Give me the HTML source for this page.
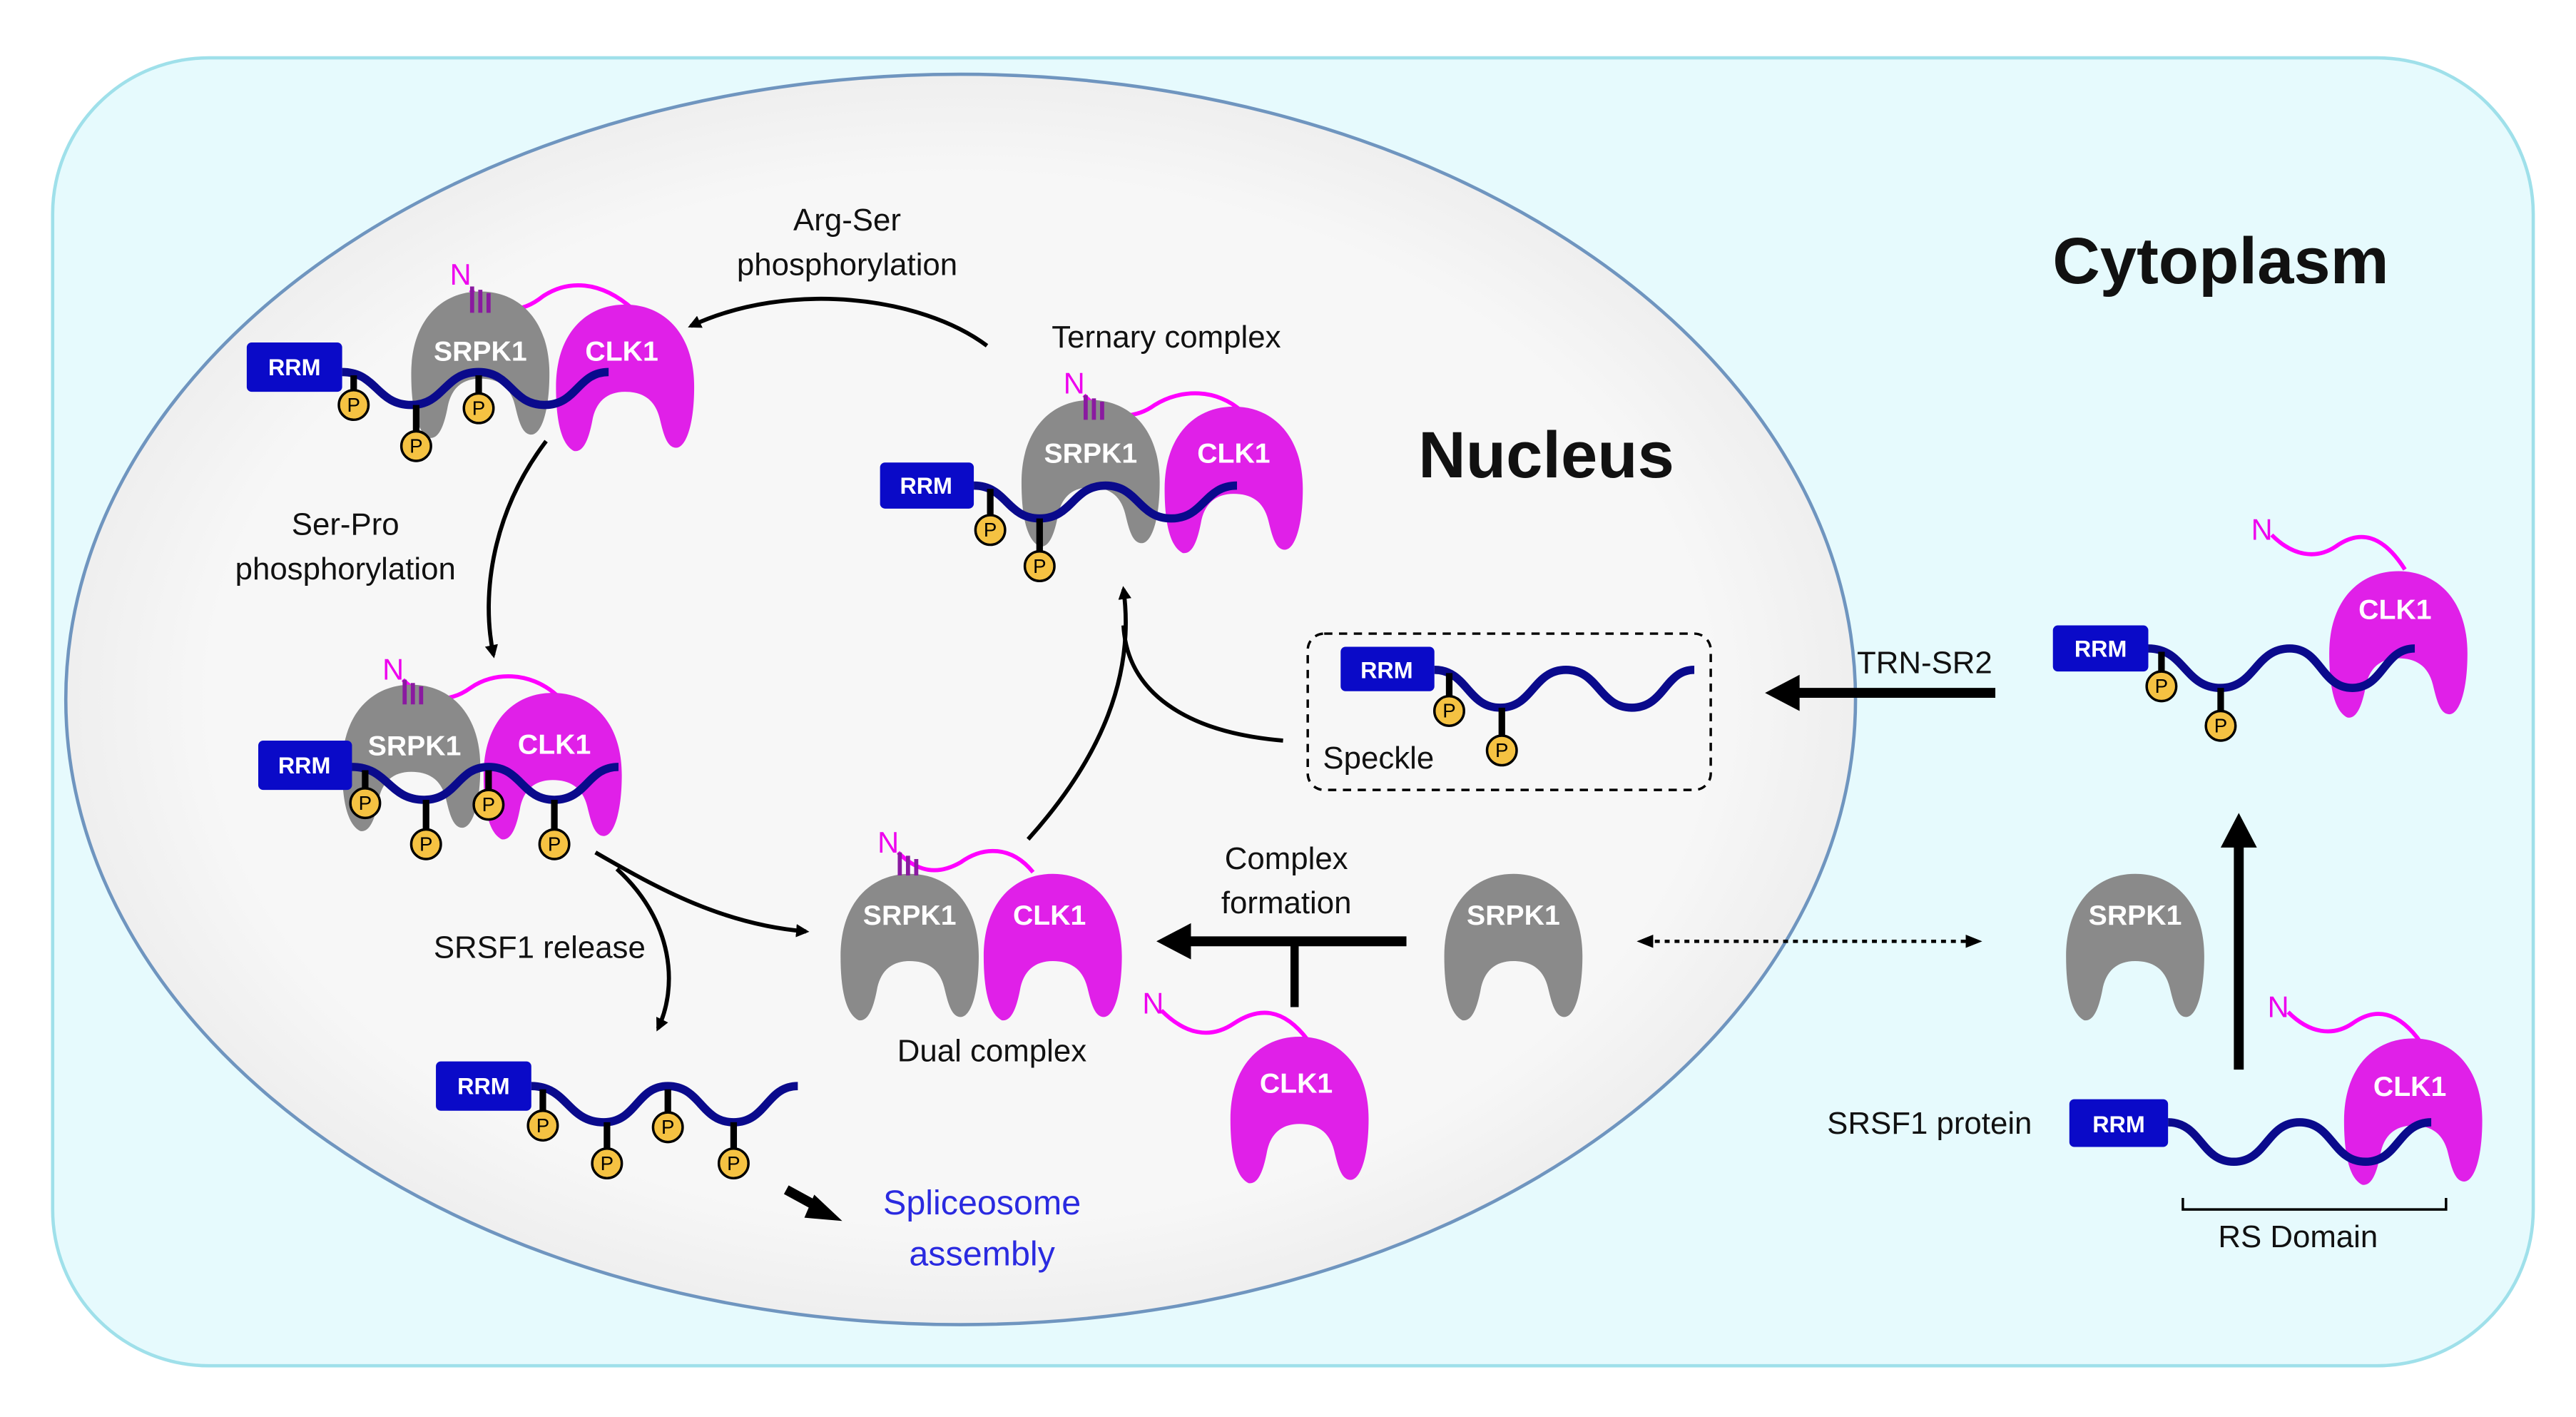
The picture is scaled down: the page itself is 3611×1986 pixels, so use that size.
<!DOCTYPE html>
<html><head><meta charset="utf-8"><style>
html,body{margin:0;padding:0;background:#fff;}
svg{display:block;}
text{font-family:"Liberation Sans",sans-serif;}
.lbl{font-size:19px;fill:#111;text-anchor:middle;}
.kt{font-size:17px;font-weight:bold;fill:#fff;text-anchor:middle;}
.rrm{font-size:14px;font-weight:bold;fill:#fff;text-anchor:middle;}
.nt{font-size:18px;fill:#ee00ee;text-anchor:middle;}
.pt{font-size:12px;fill:#000;text-anchor:middle;}
.wave{fill:none;stroke:#0a0a8c;stroke-width:5;}
.stk{stroke:#000;stroke-width:4;}
.pc{fill:#f5c242;stroke:#000;stroke-width:1.5;}
.tail{fill:none;stroke:#ff00ff;stroke-width:2.5;}
.pl{stroke:#8a1aa0;stroke-width:2.5;}
</style></head><body>
<svg width="3611" height="1986" viewBox="0 0 1566 861" xmlns="http://www.w3.org/2000/svg">
<defs>
<path id="k" d="M -42 5 C -42 -27 -24 -45 0 -45 C 24 -45 42 -27 42 5 C 42 28 37 42 31 42 C 25 42 23 32 21 24 C 18 12 10 8 0 8 C -11 8 -18 14 -20 26 C -22 36 -25 45 -31 44 C -39 40 -42 25 -42 5 Z"/>
<marker id="ah" markerWidth="8" markerHeight="8" refX="6" refY="4" orient="auto" markerUnits="userSpaceOnUse"><path d="M0 0 L8 4 L0 8 Z" fill="#000"/></marker>
<marker id="ah2" markerWidth="10" markerHeight="10" refX="5" refY="5" orient="auto-start-reverse" markerUnits="userSpaceOnUse"><path d="M0 1 L10 5 L0 9 Z" fill="#000"/></marker>
<radialGradient id="ng" cx="0.5" cy="0.5" r="0.6"><stop offset="0.7" stop-color="#f7f7f7"/><stop offset="1" stop-color="#e4e4e4"/></radialGradient>
</defs>
<rect x="0" y="0" width="1566" height="861" fill="#fff"/>
<rect x="32" y="35" width="1508" height="795" rx="95" fill="#e6fafd" stroke="#9fe0ea" stroke-width="2"/>
<ellipse cx="584" cy="425" rx="544" ry="380" fill="url(#ng)" stroke="#6f95bf" stroke-width="2"/>

<text x="1350" y="172" style="font-size:40px;font-weight:bold;fill:#111;text-anchor:middle">Cytoplasm</text>
<text x="940" y="290" style="font-size:40px;font-weight:bold;fill:#111;text-anchor:middle">Nucleus</text>

<text class="lbl" x="515" y="140">Arg-Ser</text>
<text class="lbl" x="515" y="167">phosphorylation</text>
<text class="lbl" x="709" y="211">Ternary complex</text>
<text class="lbl" x="210" y="325">Ser-Pro</text>
<text class="lbl" x="210" y="352">phosphorylation</text>
<text class="lbl" x="328" y="582">SRSF1 release</text>
<text class="lbl" x="603" y="645">Dual complex</text>
<text class="lbl" x="782" y="528">Complex</text>
<text class="lbl" x="782" y="555">formation</text>
<text class="lbl" x="1170" y="409">TRN-SR2</text>
<text class="lbl" x="838" y="467">Speckle</text>
<text class="lbl" x="1173" y="689">SRSF1 protein</text>
<text class="lbl" x="1397" y="758">RS Domain</text>
<text x="597" y="738" style="font-size:21px;fill:#2a2ae0;text-anchor:middle">Spliceosome</text>
<text x="597" y="769" style="font-size:21px;fill:#2a2ae0;text-anchor:middle">assembly</text>

<path d="M600 210 C560 180 480 170 420 198" fill="none" stroke="#000" stroke-width="2.5" marker-end="url(#ah)"/>
<path d="M332 268 C300 310 292 360 300 398" fill="none" stroke="#000" stroke-width="2.5" marker-end="url(#ah)"/>
<path d="M362 518 C400 540 440 562 490 566" fill="none" stroke="#000" stroke-width="2.5" marker-end="url(#ah)"/>
<path d="M375 528 C410 560 412 600 400 625" fill="none" stroke="#000" stroke-width="2.5" marker-end="url(#ah)"/>
<path d="M625 510 C670 460 690 410 683 358" fill="none" stroke="#000" stroke-width="2.5" marker-end="url(#ah)"/>
<path d="M780 450 C720 445 685 420 683 380" fill="none" stroke="#000" stroke-width="2.5"/>
<line x1="478" y1="723" x2="500" y2="735" stroke="#000" stroke-width="6"/>
<path d="M495 726 L512 742 L489 740 Z" fill="#000"/>
<line x1="855" y1="572" x2="720" y2="572" stroke="#000" stroke-width="6"/>
<path d="M703 572 L724 561 L724 583 Z" fill="#000"/>
<line x1="787" y1="572" x2="787" y2="612" stroke="#000" stroke-width="5"/>
<line x1="1000" y1="572" x2="1200" y2="572" stroke="#000" stroke-width="2" stroke-dasharray="3,3" marker-start="url(#ah2)" marker-end="url(#ah2)"/>
<line x1="1213" y1="421" x2="1090" y2="421" stroke="#000" stroke-width="6"/>
<path d="M1073 421 L1094 410 L1094 432 Z" fill="#000"/>
<line x1="1361" y1="650" x2="1361" y2="512" stroke="#000" stroke-width="6"/>
<path d="M1361 494 L1350 515 L1372 515 Z" fill="#000"/>
<path d="M1327 728 L1327 735 L1487 735 L1487 728" fill="none" stroke="#000" stroke-width="1.5"/>
<rect x="795" y="385" width="245" height="95" rx="10" fill="none" stroke="#000" stroke-width="1.5" stroke-dasharray="5,4"/>

<!-- TOP-LEFT complex -->
<path class="tail" d="M286 176 C300 190 315 192 330 180 C345 170 365 170 385 188"/>
<text class="nt" x="280" y="173">N</text>
<use href="#k" x="292" y="222" fill="#8a8a8a"/>
<use href="#k" x="380" y="230" fill="#e020e8"/>
<line class="pl" x1="287" y1="174" x2="287" y2="190"/><line class="pl" x1="292" y1="176" x2="292" y2="190"/><line class="pl" x1="297" y1="178" x2="297" y2="190"/>
<text class="kt" x="292" y="219">SRPK1</text><text class="kt" x="378" y="219">CLK1</text>
<rect x="150" y="208" width="58" height="30" rx="3" fill="#0a0ac8"/><text class="rrm" x="179" y="228">RRM</text>
<path class="wave" d="M208 226 C229 226 229 246 250 246 C270 246 270 226 291 226 C311 226 311 246 331 246 C351 246 351 226 370 226"/>
<line class="stk" x1="215" y1="228" x2="215" y2="238"/><circle class="pc" cx="215" cy="246" r="9"/><text class="pt" x="215" y="250">P</text>
<line class="stk" x1="253" y1="246" x2="253" y2="263"/><circle class="pc" cx="253" cy="271" r="9"/><text class="pt" x="253" y="275">P</text>
<line class="stk" x1="291" y1="228" x2="291" y2="240"/><circle class="pc" cx="291" cy="248" r="9"/><text class="pt" x="291" y="252">P</text>

<!-- TERNARY -->
<path class="tail" d="M659 240 C672 254 688 256 702 246 C718 236 740 236 755 250"/>
<text class="nt" x="653" y="239">N</text>
<use href="#k" x="663" y="288" fill="#8a8a8a"/>
<use href="#k" x="750" y="292" fill="#e020e8"/>
<line class="pl" x1="660" y1="240" x2="660" y2="255"/><line class="pl" x1="665" y1="242" x2="665" y2="255"/><line class="pl" x1="670" y1="244" x2="670" y2="255"/>
<text class="kt" x="663" y="281">SRPK1</text><text class="kt" x="750" y="281">CLK1</text>
<rect x="535" y="281" width="57" height="28" rx="3" fill="#0a0ac8"/><text class="rrm" x="563" y="300">RRM</text>
<path class="wave" d="M592 295 C612 295 612 315 632 315 C652 315 652 295 672 295 C692 295 692 315 712 315 C732 315 732 295 752 295"/>
<line class="stk" x1="602" y1="297" x2="602" y2="314"/><circle class="pc" cx="602" cy="322" r="9"/><text class="pt" x="602" y="326">P</text>
<line class="stk" x1="632" y1="315" x2="632" y2="336"/><circle class="pc" cx="632" cy="344" r="9"/><text class="pt" x="632" y="348">P</text>

<!-- MIDDLE-LEFT -->
<path class="tail" d="M245 413 C258 426 272 428 286 418 C300 408 322 408 338 422"/>
<text class="nt" x="239" y="413">N</text>
<use href="#k" x="250" y="461" fill="#8a8a8a"/>
<use href="#k" x="336" y="466" fill="#e020e8"/>
<line class="pl" x1="246" y1="413" x2="246" y2="428"/><line class="pl" x1="251" y1="415" x2="251" y2="428"/><line class="pl" x1="256" y1="417" x2="256" y2="428"/>
<text class="kt" x="252" y="459">SRPK1</text><text class="kt" x="337" y="458">CLK1</text>
<rect x="157" y="450" width="57" height="30" rx="3" fill="#0a0ac8"/><text class="rrm" x="185" y="470">RRM</text>
<path class="wave" d="M214 466 C236 466 236 486 258 486 C278 486 278 466 297 466 C317 466 317 486 337 486 C357 486 357 466 376 466"/>
<line class="stk" x1="222" y1="468" x2="222" y2="480"/><circle class="pc" cx="222" cy="488" r="9"/><text class="pt" x="222" y="492">P</text>
<line class="stk" x1="259" y1="486" x2="259" y2="505"/><circle class="pc" cx="259" cy="513" r="9"/><text class="pt" x="259" y="517">P</text>
<line class="stk" x1="297" y1="468" x2="297" y2="481"/><circle class="pc" cx="297" cy="489" r="9"/><text class="pt" x="297" y="493">P</text>
<line class="stk" x1="337" y1="486" x2="337" y2="505"/><circle class="pc" cx="337" cy="513" r="9"/><text class="pt" x="337" y="517">P</text>

<!-- BOTTOM SRSF1 -->
<rect x="265" y="645" width="58" height="30" rx="3" fill="#0a0ac8"/><text class="rrm" x="294" y="665">RRM</text>
<path class="wave" d="M323 660 C345 660 345 682 367 682 C387 682 387 660 406 660 C426 660 426 682 446 682 C466 682 466 660 485 660"/>
<line class="stk" x1="330" y1="662" x2="330" y2="676"/><circle class="pc" cx="330" cy="684" r="9"/><text class="pt" x="330" y="688">P</text>
<line class="stk" x1="369" y1="682" x2="369" y2="699"/><circle class="pc" cx="369" cy="707" r="9"/><text class="pt" x="369" y="711">P</text>
<line class="stk" x1="406" y1="662" x2="406" y2="677"/><circle class="pc" cx="406" cy="685" r="9"/><text class="pt" x="406" y="689">P</text>
<line class="stk" x1="446" y1="682" x2="446" y2="699"/><circle class="pc" cx="446" cy="707" r="9"/><text class="pt" x="446" y="711">P</text>

<!-- DUAL COMPLEX -->
<path class="tail" d="M546 518 C558 530 570 532 584 524 C598 514 615 514 628 530"/>
<text class="nt" x="540" y="518">N</text>
<use href="#k" x="553" y="576" fill="#8a8a8a"/>
<use href="#k" x="640" y="576" fill="#e020e8"/>
<line class="pl" x1="547" y1="518" x2="547" y2="532"/><line class="pl" x1="552" y1="520" x2="552" y2="532"/><line class="pl" x1="557" y1="522" x2="557" y2="532"/>
<text class="kt" x="553" y="562">SRPK1</text><text class="kt" x="638" y="562">CLK1</text>

<!-- single CLK1 -->
<path class="tail" d="M706 614 C720 628 735 632 750 622 C765 612 780 612 795 632"/>
<text class="nt" x="701" y="616">N</text>
<use href="#k" x="790" y="675" fill="#e020e8"/>
<text class="kt" x="788" y="664">CLK1</text>

<use href="#k" x="920" y="576" fill="#8a8a8a"/><text class="kt" x="920" y="562">SRPK1</text>
<use href="#k" x="1298" y="576" fill="#8a8a8a"/><text class="kt" x="1298" y="562">SRPK1</text>

<!-- SPECKLE -->
<rect x="815" y="393" width="57" height="27" rx="3" fill="#0a0ac8"/><text class="rrm" x="843" y="412">RRM</text>
<path class="wave" d="M872 407 C892 407 892 430 912 430 C932 430 932 407 952 407 C972 407 972 430 992 430 C1012 430 1012 407 1030 407"/>
<line class="stk" x1="881" y1="409" x2="881" y2="424"/><circle class="pc" cx="881" cy="432" r="9"/><text class="pt" x="881" y="436">P</text>
<line class="stk" x1="913" y1="430" x2="913" y2="448"/><circle class="pc" cx="913" cy="456" r="9"/><text class="pt" x="913" y="460">P</text>

<!-- RIGHT TOP -->
<path class="tail" d="M1381 325 C1394 338 1408 340 1420 332 C1434 322 1448 324 1462 346"/>
<text class="nt" x="1375" y="328">N</text>
<use href="#k" x="1458" y="392" fill="#e020e8"/>
<text class="kt" x="1456" y="376">CLK1</text>
<rect x="1248" y="380" width="58" height="28" rx="3" fill="#0a0ac8"/><text class="rrm" x="1277" y="399">RRM</text>
<path class="wave" d="M1306 394 C1328 394 1328 418 1350 418 C1371 418 1371 394 1392 394 C1411 394 1411 418 1430 418 C1449 418 1449 394 1468 394"/>
<line class="stk" x1="1314" y1="396" x2="1314" y2="409"/><circle class="pc" cx="1314" cy="417" r="9"/><text class="pt" x="1314" y="421">P</text>
<line class="stk" x1="1350" y1="418" x2="1350" y2="433"/><circle class="pc" cx="1350" cy="441" r="9"/><text class="pt" x="1350" y="445">P</text>

<!-- BOTTOM RIGHT -->
<path class="tail" d="M1391 615 C1404 628 1418 630 1430 622 C1444 612 1458 614 1472 634"/>
<text class="nt" x="1385" y="618">N</text>
<use href="#k" x="1467" y="676" fill="#e020e8"/>
<text class="kt" x="1465" y="666">CLK1</text>
<rect x="1258" y="668" width="60" height="29" rx="3" fill="#0a0ac8"/><text class="rrm" x="1288" y="688">RRM</text>
<path class="wave" d="M1318 682 C1338 682 1338 706 1358 706 C1378 706 1378 682 1398 682 C1418 682 1418 706 1438 706 C1458 706 1458 682 1478 682"/>
</svg>
</body></html>
